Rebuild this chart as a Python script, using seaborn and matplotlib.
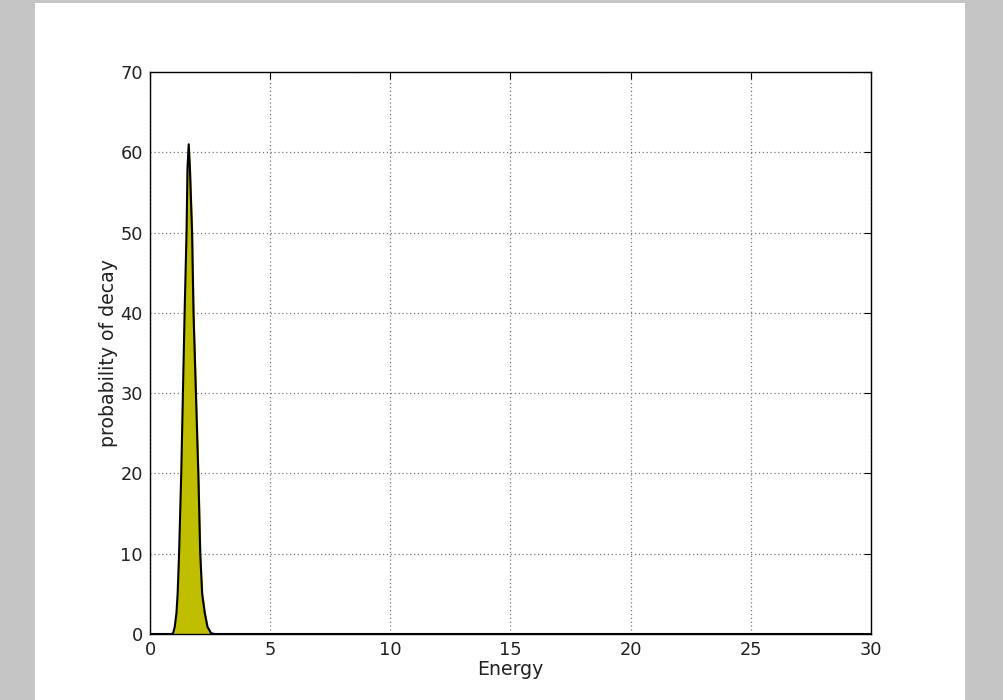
import numpy as np
import pandas as pd
import matplotlib
matplotlib.use('Agg')
import matplotlib.pyplot as plt
import seaborn as sns
from matplotlib.patches import Rectangle

# decay spectrum
energy = [0.0, 0.90, 0.96, 1.03, 1.10, 1.15, 1.21, 1.30, 1.37, 1.44, 1.52, 1.56, 1.61,
          1.66, 1.75, 1.81, 1.91, 2.01, 2.09, 2.17, 2.28, 2.39, 2.54, 2.70, 30.0]
prob = [0.0, 0.0, 0.1, 0.9, 2.6, 5.0, 10.0, 20.0, 30.0, 40.0, 50.0, 58.0, 61.0,
        58.0, 50.0, 40.0, 30.0, 20.0, 10.0, 5.0, 2.6, 0.9, 0.1, 0.0, 0.0]

df = pd.DataFrame({'Energy': energy, 'prob': prob})

sns.set_theme(style='white')
plt.rcParams['font.family'] = ['DejaVu Sans']
plt.rcParams['xtick.direction'] = 'in'
plt.rcParams['ytick.direction'] = 'in'

fig = plt.figure(figsize=(10.04, 7.0), dpi=100, facecolor='#c4c5c4')
# white page inside the grey surround
page = Rectangle((35 / 1004, 0), 930 / 1004, 697 / 700,
                 transform=fig.transFigure, facecolor='white',
                 edgecolor='none', zorder=-10)
fig.add_artist(page)
ax = fig.add_axes([150 / 1004, 66 / 700, 721 / 1004, 562 / 700])
ax.set_zorder(5)

ax.fill_between(df['Energy'], df['prob'], 0, color='#bfbf00', zorder=2)
sns.lineplot(data=df, x='Energy', y='prob', ax=ax, color='black',
             linewidth=1.5, estimator=None, sort=False, zorder=3)

ax.set_xlim(0, 30)
ax.set_ylim(0, 70)
ax.set_xticks(range(0, 31, 5))
ax.set_yticks(range(0, 71, 10))
ax.set_xlabel('Energy', fontsize=13.6, color='#222222', labelpad=1)
ax.set_ylabel('probability of decay', fontsize=13.6, color='#222222', labelpad=2)
ax.tick_params(axis='both', labelsize=12.8, labelcolor='#222222', length=5,
               width=0.8, color='black', top=True, right=True, pad=5)
ax.grid(True, color='#777777', linestyle=(0, (1, 2.1)), linewidth=0.9)
for s in ax.spines.values():
    s.set_color('black')
    s.set_linewidth(1.0)
    s.set_zorder(4)

fig.savefig('out.png', dpi=100, facecolor=fig.get_facecolor())
